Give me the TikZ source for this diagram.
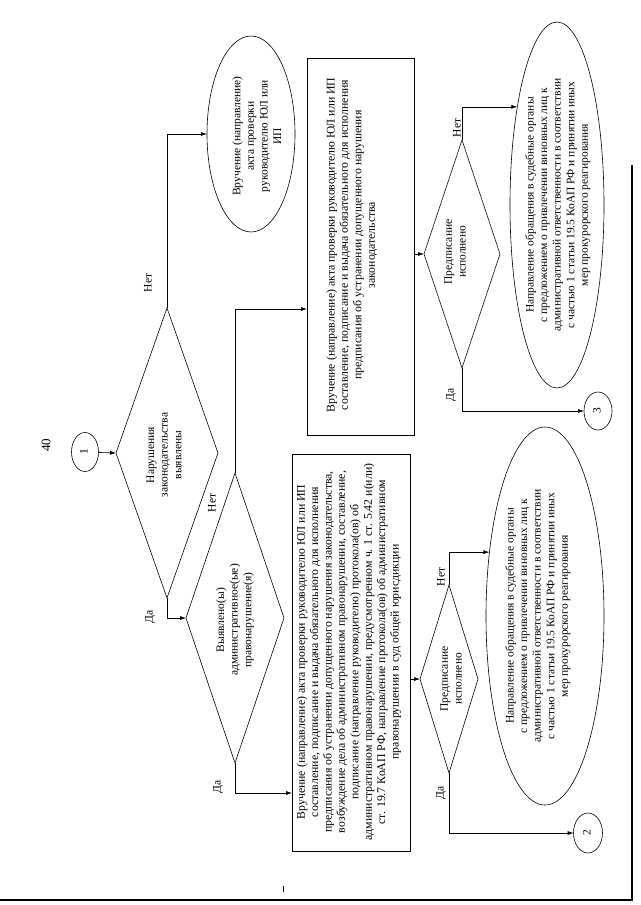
\documentclass[tikz,border=0pt]{standalone}
\usepackage{fontspec}
\setmainfont{Liberation Serif}
\usetikzlibrary{shapes.geometric,arrows.meta,calc}
\newcommand{\rottxt}[1]{\rotatebox{90}{\begin{tabular}{@{}c@{}}#1\end{tabular}}}
\begin{document}
\begin{tikzpicture}[x=1pt,y=-1pt,
  shp/.style={draw, line width=0.6pt, inner sep=0pt, outer sep=0pt},
  ell/.style={shp, ellipse},
  dia/.style={shp, diamond},
  boxr/.style={shp, rectangle},
  txt/.style={inner sep=0pt, font=\fontsize{11.5}{13.6}\selectfont},
  boxtxt/.style={inner sep=0pt, font=\fontsize{11.8}{13.4}\selectfont},
  lbl/.style={inner sep=0pt, rotate=90, font=\fontsize{11.5}{13}\selectfont},
  conn/.style={line width=0.6pt, -{Latex[length=6pt,width=4pt]}}]
\useasboundingbox (0,0) rectangle (640,905);
\fill[white] (0,0) rectangle (640,905);

% page number
\node[lbl, font=\fontsize{13}{15}\selectfont] (pg) at (46,445) {40};

% shapes
\node[ell, minimum width=27, minimum height=39] (c1) at (85,452) {};
\node[txt] (c1t) at (85,452) {\rottxt{1}};

\node[dia, minimum width=102, minimum height=290] (d1) at (167,453) {};
\node[txt] (d1t) at (165,455) {\rottxt{Нарушения\\законодательства\\выявлены}};

\node[ell, minimum width=88, minimum height=196] (e1) at (251,134) {};
\node[txt] (e1t) at (258,136) {\rottxt{Вручение (направление)\\акта проверки\\руководителю ЮЛ или\\ИП}};

\node[dia, minimum width=98, minimum height=290] (d2) at (235,618) {};
\node[txt] (d2t) at (235,620) {\rottxt{Выявлено(ы)\\административное(ые)\\правонарушение(я)}};

\node[boxr, minimum width=107, minimum height=377] (r1) at (360.5,246.5) {};
\node[boxtxt] (r1t) at (352,245) {\rottxt{Вручение (направление) акта проверки руководителю ЮЛ или ИП\\составление, подписание и выдача обязательного для исполнения\\предписания об устранении допущенного нарушения\\законодательства}};

\node[boxr, minimum width=118, minimum height=397] (r2) at (351,652.5) {};
\node[boxtxt] (r2t) at (349,652) {\rottxt{Вручение (направление) акта проверки руководителю ЮЛ или ИП\\составление, подписание и выдача обязательного для исполнения\\предписания об устранении допущенного нарушения законодательства,\\возбуждение дела об административном правонарушении, составление,\\подписание (направление руководителю) протокола(ов) об\\административном правонарушении, предусмотренном ч. 1 ст. 5.42 и(или)\\ст. 19.7 КоАП РФ, направление протокола(ов) об административном\\правонарушении в суд общей юрисдикции}};

\node[dia, minimum width=76, minimum height=228] (d4) at (462,254) {};
\node[txt] (d4t) at (456,252) {\rottxt{Предписание\\исполнено}};

\node[ell, minimum width=94, minimum height=366] (e4) at (557,205) {};
\node[txt] (e4t) at (558,205) {\rottxt{Направление обращения в судебные органы\\с предложением о привлечении виновных лиц к\\административной ответственности в соответствии\\с частью 1 статьи 19.5 КоАП РФ и принятии иных\\мер прокурорского реагирования}};

\node[ell, minimum width=28, minimum height=38] (c3) at (598,411) {};
\node[txt] (c3t) at (598,411) {\rottxt{3}};

\node[dia, minimum width=58, minimum height=188] (d3) at (449,679) {};
\node[txt] (d3t) at (452,679) {\rottxt{Предписание\\исполнено}};

\node[ell, minimum width=118, minimum height=378] (e3) at (545,616) {};
\node[txt] (e3t) at (538,616) {\rottxt{Направление обращения в судебные органы\\с предложением о привлечении виновных лиц к\\административной ответственности в соответствии\\с частью 1 статьи 19.5 КоАП РФ и принятии иных\\мер прокурорского реагирования}};

\node[ell, minimum width=29, minimum height=40] (c2) at (588,833) {};
\node[txt] (c2t) at (588,833) {\rottxt{2}};

% labels
\node[lbl] (l1) at (148,283) {Нет};
\node[lbl] (l2) at (150,617) {Да};
\node[lbl] (l3) at (212,503) {Нет};
\node[lbl] (l4) at (218,787) {Да};
\node[lbl] (l5) at (457,128) {Нет};
\node[lbl] (l6) at (451,395) {Да};
\node[lbl] (l7) at (441,577) {Нет};
\node[lbl] (l8) at (441,793) {Да};

% connectors
\draw[conn] (c1) -- (d1.west);
\draw[conn] (d1.north) |- (e1.west);
\draw[conn] (d1.south) |- (d2.west);
\draw[conn] (d2.north) |- ([yshift=-62.5pt]r1.west);
\draw[conn] (d2.south) |- ([yshift=-140.5pt]r2.west);
\draw[conn] (r1.east |- d4.west) -- (d4.west);
\draw[conn] (d4.north) |- (e4.112);
\draw[conn] (d4.south) |- (c3.west);
\draw[conn] (r2.east |- d3.west) -- (d3.west);
\draw[conn] (d3.north) |- (e3.131);
\draw[conn] (d3.south) |- (c2.west);

% page frame of the scan
\draw[line width=2.5pt] (632,165) -- (632,900) -- (0,900);
\draw[line width=0.5pt] (283,886) -- (283,892);
\end{tikzpicture}
\end{document}
